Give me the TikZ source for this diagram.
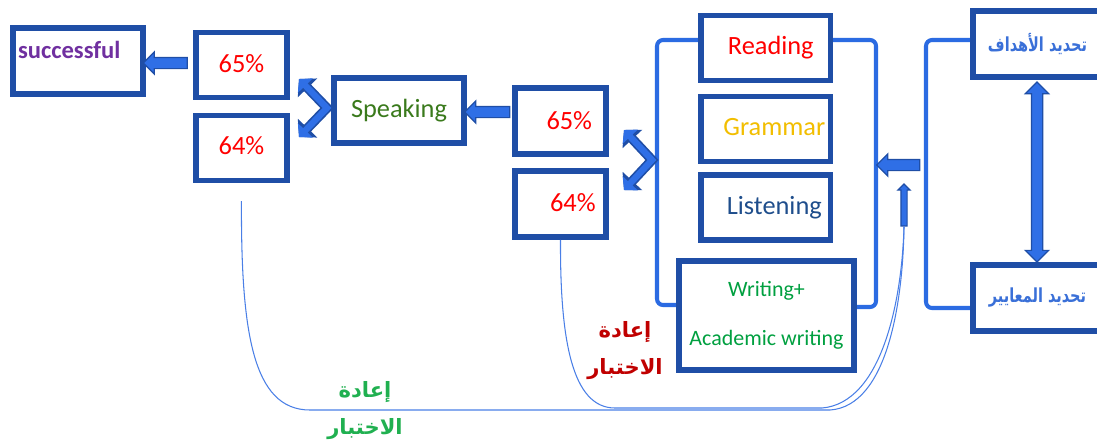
\documentclass[tikz,border=0pt]{standalone}
\usepackage{fontspec}
\setmainfont{Carlito}
\newfontfamily\arabicfont[Script=Arabic]{DejaVu Sans}
\newfontfamily\aimfont[Script=Arabic, FakeStretch=0.75]{DejaVu Sans}
\TeXXeTstate=1
\usetikzlibrary{shapes.arrows, arrows.meta}

\definecolor{boxline}{HTML}{1F4EA6}
\definecolor{brline}{HTML}{2B6BE2}
\definecolor{arfill}{HTML}{2F6FE6}
\definecolor{curve}{HTML}{4A7FE6}
\definecolor{pct}{HTML}{FF0000}
\definecolor{spk}{HTML}{3A7A1C}
\definecolor{gram}{HTML}{F2BE00}
\definecolor{lst}{HTML}{1F4E8C}
\definecolor{wrt}{HTML}{00A040}
\definecolor{arblue}{HTML}{3A70D8}
\definecolor{retry}{HTML}{20B050}
\definecolor{retryred}{HTML}{C00000}
\definecolor{succ}{HTML}{7030A0}

\begin{document}
\begin{tikzpicture}[x=0.02cm, y=-0.02cm,
    box/.style = {draw=boxline, line width=3.4pt, fill=white, inner sep=2pt, font=\fontsize{15}{18}\selectfont},
    pctbox/.style = {box, minimum width=1.82cm, minimum height=1.3cm, text=pct},
    skill/.style = {box, minimum width=2.6cm, minimum height=1.3cm},
    aim/.style = {box, minimum width=2.6cm, minimum height=1.32cm, text=arblue, font=\aimfont\bfseries\fontsize{11}{13}\selectfont},
    bracket/.style = {draw=brline, line width=2.3pt, rounded corners=1.2mm},
    fatbase/.style = {draw=boxline, fill=arfill, line width=0.7pt, inner sep=0.1cm, minimum width=0.44cm},
    fat/.style = {fatbase, single arrow, single arrow head extend=0.11cm},
    chev/.style = {draw=boxline, line width=5.5pt, line join=miter, {Triangle[width=15pt,length=7pt]}-{Triangle[width=15pt,length=7pt]},
      postaction={draw=arfill, line width=3.6pt, {Triangle[width=11.5pt,length=5.2pt]}-{Triangle[width=11.5pt,length=5.2pt]}}},
    loop/.style = {draw=curve, line width=0.6pt},
    again/.style = {align=center, font=\arabicfont\bfseries\fontsize{12}{21}\selectfont}]
  \useasboundingbox (0,0) rectangle (1097,447);

  % brackets round the skills and the aims
  \draw[bracket] (700,40) -- (657,40) -- (657,305) -- (680,305);
  \draw[bracket] (830,40) -- (876,40) -- (876,307) -- (853,307);
  \draw[bracket] (975,40) -- (926,40) -- (926,308) -- (975,308);

  \node[box, minimum width=2.6cm, minimum height=1.32cm, text width=2.4cm, align=left, text=succ, font=\bfseries\fontsize{14}{16}\selectfont] at (78,61) (done) {\raisebox{13pt}{successful}};
  \node[pctbox] at (241.5,65) (a65) {\raisebox{2pt}{65\%}};
  \node[pctbox] at (241.5,148) (a64) {\raisebox{3pt}{64\%}};
  \node[skill, text=spk] at (399,110.5) (speak) {Speaking};
  \node[pctbox, minimum height=1.32cm] at (560.5,121) (b65) {\hspace{10pt}65\%};
  \node[pctbox, minimum height=1.32cm] at (560.5,204) (b64) {\hspace{14pt}\raisebox{2pt}{64\%}};

  \node[skill, text=red] at (765.5,48) (read) {\hspace{6pt}Reading};
  \node[skill, text=gram] at (765.5,129) (gram) {\hspace{10pt}\raisebox{2pt}{Grammar}};
  \node[skill, text=lst] at (765.5,207.5) (listen) {\hspace{10pt}Listening};
  \node[box, minimum width=3.5cm, minimum height=2.18cm, align=center, text=wrt, font=\fontsize{12.5}{28}\selectfont] at (766.5,315.5) (write) {Writing+\\Academic writing};

  \node[aim] at (1037.5,44) (goals) {\beginR تحديد الأهداف\endR};
  \node[aim] at (1037.5,298) (crit) {\beginR تحديد المعايير\endR};

  % block arrows
  \node[fat, minimum height=0.88cm, shape border rotate=180] at (168,63) (ar1) {};
  \node[fat, minimum height=0.9cm, shape border rotate=180] at (490,112) (ar2) {};
  \node[fat, minimum height=0.86cm, shape border rotate=180] at (901,165) (ar3) {};
  \node[fatbase, double arrow, double arrow head extend=0.12cm, minimum height=3.6cm, shape border rotate=90] at (1037,172) (ar4) {};
  \node[fat, inner sep=0.05cm, minimum width=0.22cm, single arrow head extend=0.06cm, minimum height=0.84cm, shape border rotate=90] at (904,206.5) (up) {};

  \draw[chev] (299,79) -- (327,108) -- (299,137);
  \draw[chev] (624,130) -- (652,160) -- (624,190);

  % retest loops
  \draw[loop, shorten <=10pt] (a64.south) .. controls (241,330) and (252,410) .. (310,410) -- (830,410) .. controls (888,406) and (903,300) .. (up.tail);
  \draw[loop] (b64.south) .. controls (560,340) and (572,408) .. (615,408) -- (822,408) .. controls (882,403) and (902,300) .. (up.tail);

  \node[again, text=retry] at (365,411) (retry1) {\beginR إعادة\endR\\\beginR الاختبار\endR};
  \node[again, text=retryred] at (625,351) (retry2) {\beginR إعادة\endR\\\beginR الاختبار\endR};
\end{tikzpicture}
\end{document}
